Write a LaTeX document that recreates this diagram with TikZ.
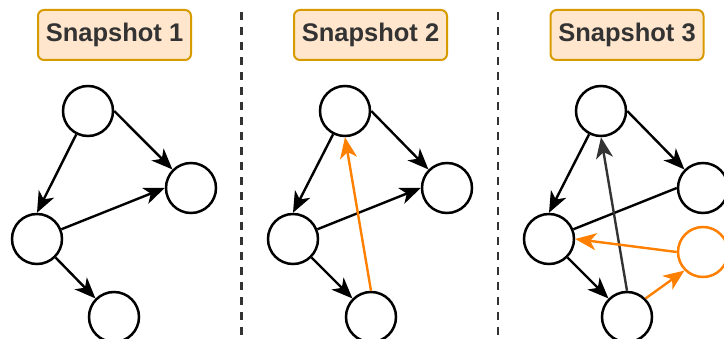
\documentclass[tikz,border=0pt]{standalone}
\usepackage{fontspec}
\setmainfont{Liberation Sans}
\usetikzlibrary{arrows.meta}

\definecolor{snapfill}{HTML}{FFE6CC}
\definecolor{snapline}{HTML}{D79B00}
\definecolor{textgray}{HTML}{333333}
\definecolor{neworange}{HTML}{FF8000}

\tikzset{
	snap/.style={draw=snapline,fill=snapfill,line width=2pt,rounded corners=6pt,
		minimum width=153pt,minimum height=50pt,inner sep=0pt,text=textgray,
		font=\fontsize{25.5}{30}\selectfont\bfseries},
	vert/.style={circle,draw,fill=white,line width=2.5pt,minimum size=50pt,inner sep=0pt},
	link/.style={line width=2.4pt,-{Stealth[length=21pt,width=17pt,inset=6pt]}},
	sep/.style={draw=textgray,line width=2.5pt,dash pattern=on 8pt off 7pt},
}

\begin{document}
\begin{tikzpicture}[x=1pt,y=-1pt]
		\useasboundingbox (0,0) rectangle (724,339);
		
		\draw[sep] (241.5,12) -- (241.5,339);
		\draw[sep] (498,12) -- (498,339);
		
		\node[snap] (s1) at (114.5,35) {Snapshot 1};
		\node[snap] (s2) at (370.5,35) {Snapshot 2};
		\node[snap] (s3) at (627,35) {Snapshot 3};
		
		% snapshot 1
		\node[vert] (a1) at (88,111) {};
		\node[vert] (b1) at (191,188) {};
		\node[vert] (c1) at (37,239) {};
		\node[vert] (d1) at (114,317) {};
		
		\draw[link] (a1.east) -- (b1.135);
		\draw[link] (a1) -- (c1.north);
		\draw[link] (c1) -- (b1.west);
		\draw[link] (c1.-45) -- (d1.135);
		
		% snapshot 2
		\node[vert] (a2) at (345,111) {};
		\node[vert] (b2) at (447,188) {};
		\node[vert] (c2) at (293,239) {};
		\node[vert] (d2) at (371,317) {};
		
		\draw[link] (a2.east) -- (b2.135);
		\draw[link] (a2) -- (c2.north);
		\draw[link] (c2) -- (b2.west);
		\draw[link] (c2.-45) -- (d2.135);
		\draw[link,neworange] (d2.north) -- (a2.south);
		
		% snapshot 3
		\node[vert] (a3) at (601,111) {};
		\node[vert] (b3) at (703,188) {};
		\node[vert] (c3) at (549,239) {};
		\node[vert] (d3) at (627,317) {};
		\node[vert,draw=neworange] (e3) at (703,252) {};
		
		\draw[link] (a3.east) -- (b3.135);
		\draw[link] (a3) -- (c3.north);
		\draw[line width=2.4pt] (b3.west) -- (c3);
		\draw[link] (c3.-45) -- (d3.135);
		\draw[link,textgray] (d3.north) -- (a3.south);
		\draw[link,neworange] (e3.west) -- (c3.east);
		\draw[link,neworange] (d3.45) -- (e3.225);
	\end{tikzpicture}
\end{document}
